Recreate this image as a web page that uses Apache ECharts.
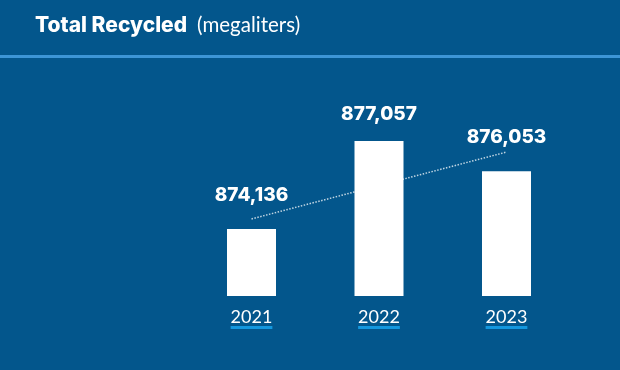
<!DOCTYPE html>
<html><head><meta charset="utf-8">
<script src="https://cdn.jsdelivr.net/npm/echarts@6/dist/echarts.min.js"></script>
<style>html,body{margin:0;padding:0;background:#03568C;}#c{width:620px;height:370px;}</style>
</head><body><div id="c"></div>
<script>
const categories = ['2021', '2022', '2023'];
const recycled = [874136, 877057, 876053];
const trendLine = [874470, null, 876690];
const titleMain = 'Total Recycled';
const titleUnit = '(megaliters)';

const chart = echarts.init(document.getElementById('c'));
const labelDist = [24, 17, 24];
chart.setOption({
  backgroundColor: '#03568C',
  animation: false,
  title: {
    left: 30, top: 10,
    text: '{b|' + titleMain + '}  {r|' + titleUnit + '}',
    textStyle: {
      rich: {
        b: { fontFamily: 'Inter', fontWeight: 800, fontSize: 21, color: '#fff' },
        r: { fontFamily: 'Lato', fontWeight: 'normal', fontSize: 20.5, color: '#fff' }
      }
    }
  },
  graphic: [{
    type: 'rect', left: 0, top: 55,
    shape: { width: 620, height: 3 },
    style: { fill: '#3D95D6' }
  }],
  grid: { left: 187.75, right: 49.75, top: 96, bottom: 74 },
  xAxis: {
    type: 'category', data: categories,
    axisLine: { show: false }, axisTick: { show: false },
    axisLabel: {
      margin: 13,
      formatter: v => '{a|' + v + '}\n{u|' + v + '}',
      rich: {
        a: { fontFamily: 'Lato', fontSize: 18, color: '#fff', lineHeight: 17 },
        u: { fontFamily: 'Lato', fontSize: 18, color: 'transparent', height: 3, lineHeight: 3, backgroundColor: '#1497DE' }
      }
    }
  },
  yAxis: { type: 'value', min: 871912, max: 878551, show: false, splitLine: { show: false } },
  series: [{
    type: 'line', data: trendLine, connectNulls: true, symbol: 'none', z: 1,
    lineStyle: { type: 'dotted', color: 'rgba(255,255,255,0.75)', width: 1.5 }
  }, {
    type: 'bar', barWidth: 49, z: 2,
    itemStyle: { color: '#fff' },
    data: recycled.map((v, i) => ({ value: v, label: { distance: labelDist[i] } })),
    label: {
      show: true, position: 'top', color: '#fff',
      fontFamily: 'Inter', fontWeight: 800, fontSize: 19,
      formatter: p => p.value.toLocaleString('en-US')
    }
  }]
});
</script></body></html>
